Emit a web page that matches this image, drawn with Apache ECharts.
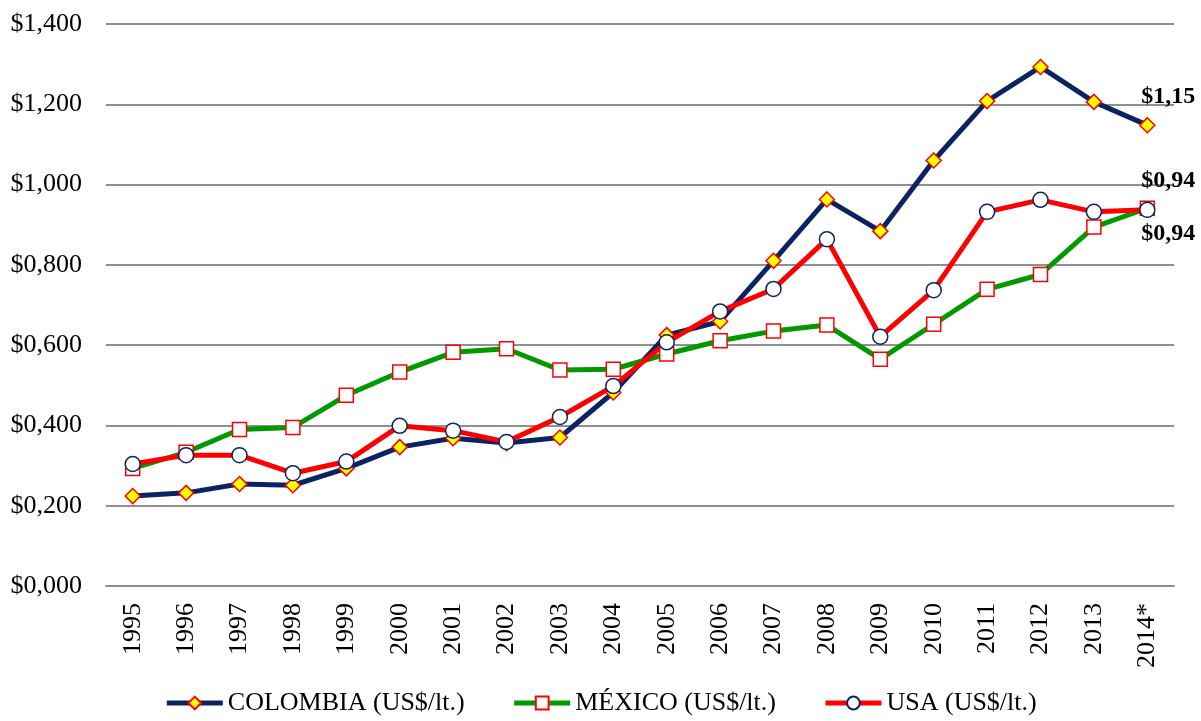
<!DOCTYPE html>
<html>
<head>
<meta charset="utf-8">
<title>Precio de la gasolina</title>
<script src="https://cdn.jsdelivr.net/npm/echarts@6/dist/echarts.min.js"></script>
<style>
  html, body { margin: 0; padding: 0; background: #ffffff; }
  #chart { width: 1201px; height: 721px; }
</style>
</head>
<body>
<div id="chart"></div>
<script>
// Years on the category axis (2014 is a preliminary figure)
const years = ['1995', '1996', '1997', '1998', '1999', '2000', '2001', '2002', '2003', '2004',
               '2005', '2006', '2007', '2008', '2009', '2010', '2011', '2012', '2013', '2014*'];

// Gasoline price, US$ per litre
const colombia = [0.224, 0.232, 0.254, 0.251, 0.293, 0.346, 0.368, 0.356, 0.370, 0.482,
                  0.625, 0.659, 0.810, 0.963, 0.884, 1.060, 1.208, 1.293, 1.206, 1.148];
const mexico   = [0.293, 0.333, 0.390, 0.395, 0.475, 0.533, 0.582, 0.591, 0.538, 0.540,
                  0.578, 0.611, 0.635, 0.650, 0.565, 0.652, 0.739, 0.776, 0.894, 0.941];
const usa      = [0.304, 0.326, 0.326, 0.281, 0.310, 0.399, 0.387, 0.359, 0.421, 0.498,
                  0.607, 0.684, 0.740, 0.864, 0.621, 0.737, 0.932, 0.962, 0.932, 0.937];

const seriesNames = ['COLOMBIA (US$/lt.)', 'MÉXICO (US$/lt.)', 'USA (US$/lt.)'];

const FONT = "'Liberation Serif', 'Times New Roman', serif";
const GRID_COLOR = '#8f8f8f';

// Comma as the decimal separator, as in "$1,400"
function money(v, digits) {
  return '$' + v.toFixed(digits).replace('.', ',');
}

// Only the last point of each series carries a value label
function withEndLabel(values, labelOffset) {
  const last = values.length - 1;
  return values.map((v, i) => i !== last ? v : {
    value: v,
    label: {
      show: true,
      position: 'top',
      offset: labelOffset,
      formatter: p => money(p.value, 2),
      fontFamily: FONT,
      fontSize: 24,
      fontWeight: 'bold',
      color: '#000000'
    }
  });
}

const chart = echarts.init(document.getElementById('chart'), null, { renderer: 'canvas' });

chart.setOption({
  animation: false,
  backgroundColor: '#ffffff',
  grid: {
    left: 106,
    right: 27,
    top: 24,
    bottom: 135,
    containLabel: false,
    outerBoundsMode: 'none'
  },
  legend: {
    data: seriesNames,
    bottom: 0,
    left: 'center',
    itemWidth: 56,
    itemHeight: 16,
    itemGap: 47,
    lineStyle: { width: 5 },
    textStyle: { fontFamily: FONT, fontSize: 26, color: '#000000' }
  },
  xAxis: {
    type: 'category',
    data: years,
    boundaryGap: true,
    axisLine: { show: true, lineStyle: { color: GRID_COLOR, width: 2 } },
    axisTick: { show: false },
    axisLabel: {
      rotate: 90,
      margin: 17,
      interval: 0,
      fontFamily: FONT,
      fontSize: 26,
      color: '#000000'
    }
  },
  yAxis: {
    type: 'value',
    min: 0,
    max: 1.4,
    interval: 0.2,
    axisLine: { show: false },
    axisTick: { show: false },
    splitLine: { show: true, lineStyle: { color: GRID_COLOR, width: 2 } },
    axisLabel: {
      margin: 24,
      formatter: v => money(v, 3),
      fontFamily: FONT,
      fontSize: 26,
      color: '#000000'
    }
  },
  series: [
    {
      name: seriesNames[0],
      type: 'line',
      data: withEndLabel(colombia, [21, -3]),
      symbol: 'diamond',
      symbolSize: 15,
      showAllSymbol: true,
      lineStyle: { color: '#0b2461', width: 5 },
      itemStyle: { color: '#ffff00', borderColor: '#ff0000', borderWidth: 1.5 },
      emphasis: { disabled: true }
    },
    {
      name: seriesNames[1],
      type: 'line',
      data: withEndLabel(mexico, [21, 50]),
      symbol: 'rect',
      symbolSize: 14,
      showAllSymbol: true,
      lineStyle: { color: '#009a00', width: 5 },
      itemStyle: { color: '#ffffff', borderColor: '#ff0000', borderWidth: 1.5 },
      emphasis: { disabled: true }
    },
    {
      name: seriesNames[2],
      type: 'line',
      data: withEndLabel(usa, [21, -4]),
      symbol: 'circle',
      symbolSize: 15,
      showAllSymbol: true,
      lineStyle: { color: '#ff0000', width: 5 },
      itemStyle: { color: '#ffffff', borderColor: '#0b2461', borderWidth: 1.5 },
      emphasis: { disabled: true }
    }
  ]
});
</script>
</body>
</html>
